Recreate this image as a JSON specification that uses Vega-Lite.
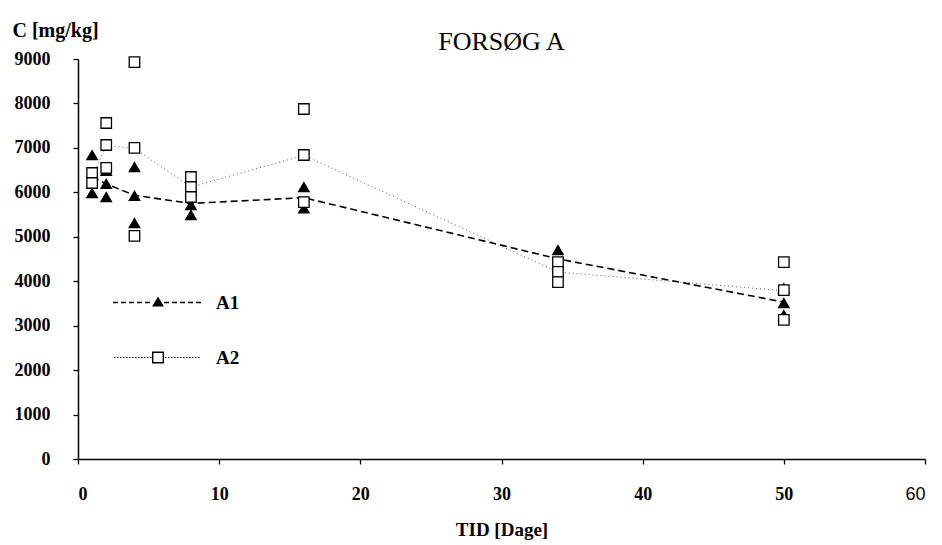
{
  "$schema": "https://vega.github.io/schema/vega-lite/v6.json",
  "width": 847,
  "height": 400,
  "autosize": "none",
  "padding": {"left": 78, "top": 59, "right": 17, "bottom": 86},
  "background": "white",
  "config": {
    "view": {"stroke": null},
    "axis": {
      "domainColor": "black", "domainWidth": 1.5, "tickColor": "black", "tickWidth": 1.3, "tickSize": 5,
      "grid": false, "labelColor": "black", "labelFont": "Liberation Serif", "labelFontWeight": "bold",
      "labelFontSize": 18, "titleFont": "Liberation Serif", "titleFontWeight": "bold", "titleFontSize": 19, "titleColor": "black"
    }
  },
  "title": {"text": "FORSØG A", "font": "Liberation Serif", "fontSize": 26, "fontWeight": "normal", "color": "black", "anchor": "middle", "baseline": "middle", "offset": -48},
  "data": {"values": [
    {"series": "A1", "t": 1, "c": 6840}, {"series": "A1", "t": 1, "c": 5985}, {"series": "A1", "t": 1, "c": 6210},
    {"series": "A1", "t": 2, "c": 6190}, {"series": "A1", "t": 2, "c": 5895}, {"series": "A1", "t": 2, "c": 6485},
    {"series": "A1", "t": 4, "c": 6570}, {"series": "A1", "t": 4, "c": 5920}, {"series": "A1", "t": 4, "c": 5310},
    {"series": "A1", "t": 8, "c": 5715}, {"series": "A1", "t": 8, "c": 5490}, {"series": "A1", "t": 8, "c": 6045},
    {"series": "A1", "t": 16, "c": 6120}, {"series": "A1", "t": 16, "c": 5640},
    {"series": "A1", "t": 34, "c": 4700}, {"series": "A1", "t": 34, "c": 4430}, {"series": "A1", "t": 34, "c": 4380},
    {"series": "A1", "t": 50, "c": 3510}, {"series": "A1", "t": 50, "c": 3240}, {"series": "A1", "t": 50, "c": 3840},
    {"series": "A2", "t": 1, "c": 6435}, {"series": "A2", "t": 1, "c": 6210},
    {"series": "A2", "t": 2, "c": 7560}, {"series": "A2", "t": 2, "c": 7065}, {"series": "A2", "t": 2, "c": 6550},
    {"series": "A2", "t": 4, "c": 8930}, {"series": "A2", "t": 4, "c": 7000}, {"series": "A2", "t": 4, "c": 5020},
    {"series": "A2", "t": 8, "c": 6345}, {"series": "A2", "t": 8, "c": 6120}, {"series": "A2", "t": 8, "c": 5895},
    {"series": "A2", "t": 16, "c": 7875}, {"series": "A2", "t": 16, "c": 6840}, {"series": "A2", "t": 16, "c": 5780},
    {"series": "A2", "t": 34, "c": 4430}, {"series": "A2", "t": 34, "c": 4210}, {"series": "A2", "t": 34, "c": 3980},
    {"series": "A2", "t": 50, "c": 4430}, {"series": "A2", "t": 50, "c": 3800}, {"series": "A2", "t": 50, "c": 3130}
  ]},
  "encoding": {
    "x": {"field": "t", "type": "quantitative", "scale": {"domain": [0, 60], "nice": false},
      "axis": {"values": [0, 10, 20, 30, 40, 50, 60], "title": "TID [Dage]", "labelPadding": 21, "titlePadding": 17,
        "labelFont": {"condition": {"test": "datum.value == 60", "value": "Liberation Sans"}, "value": "Liberation Serif"},
        "labelFontWeight": {"condition": {"test": "datum.value == 60", "value": "normal"}, "value": "bold"}}},
    "y": {"field": "c", "type": "quantitative", "scale": {"domain": [0, 9000], "nice": false},
      "axis": {"values": [0, 1000, 2000, 3000, 4000, 5000, 6000, 7000, 8000, 9000], "format": "d", "title": "C [mg/kg]", "labelPadding": 23,
        "titleAngle": 0, "titleAlign": "left", "titleBaseline": "middle", "titleX": -66, "titleY": -29, "titleFontSize": 20}}
  },
  "resolve": {"scale": {"shape": "independent", "fill": "independent"}, "legend": {"shape": "independent"}},
  "layer": [
    {
      "transform": [{"filter": "datum.series === 'A2'"}],
      "mark": {"type": "line", "color": "#555555", "strokeWidth": 1, "strokeDash": [1, 3]},
      "encoding": {"y": {"aggregate": "mean", "field": "c", "type": "quantitative"}}
    },
    {
      "transform": [{"filter": "datum.series === 'A1'"}],
      "mark": {"type": "line", "color": "black", "strokeWidth": 1.6, "strokeDash": [7, 4]},
      "encoding": {"y": {"aggregate": "mean", "field": "c", "type": "quantitative"}}
    },
    {
      "mark": {"type": "point", "filled": true, "color": "black", "opacity": 0, "size": 4},
      "encoding": {
        "shape": {"field": "series", "type": "nominal",
          "scale": {"domain": ["A1", "A2"], "range": [
            "M-45,-0.8h5v1.6h-5ZM-37,-0.8h5v1.6h-5ZM-29,-0.8h5v1.6h-5ZM-21,-0.8h5v1.6h-5ZM-13,-0.8h5v1.6h-5ZM6,-0.8h5v1.6h-5ZM14,-0.8h5v1.6h-5ZM22,-0.8h5v1.6h-5ZM30,-0.8h5v1.6h-5ZM38,-0.8h5v1.6h-5ZM-6,4L0,-6L6,4Z",
            "M-44,-0.5h1.5v1h-1.5ZM-41,-0.5h1.5v1h-1.5ZM-38,-0.5h1.5v1h-1.5ZM-35,-0.5h1.5v1h-1.5ZM-32,-0.5h1.5v1h-1.5ZM-29,-0.5h1.5v1h-1.5ZM-26,-0.5h1.5v1h-1.5ZM-23,-0.5h1.5v1h-1.5ZM-20,-0.5h1.5v1h-1.5ZM-17,-0.5h1.5v1h-1.5ZM-14,-0.5h1.5v1h-1.5ZM-11,-0.5h1.5v1h-1.5ZM-8,-0.5h1.5v1h-1.5ZM7,-0.5h1.5v1h-1.5ZM10,-0.5h1.5v1h-1.5ZM13,-0.5h1.5v1h-1.5ZM16,-0.5h1.5v1h-1.5ZM19,-0.5h1.5v1h-1.5ZM22,-0.5h1.5v1h-1.5ZM25,-0.5h1.5v1h-1.5ZM28,-0.5h1.5v1h-1.5ZM31,-0.5h1.5v1h-1.5ZM34,-0.5h1.5v1h-1.5ZM37,-0.5h1.5v1h-1.5ZM40,-0.5h1.5v1h-1.5ZM-6,-6H6V6H-6ZM-4.6,-4.6V4.6H4.6V-4.6Z"
          ]},
          "legend": {"orient": "none", "legendX": 70.5, "legendY": 234, "title": null, "padding": 0,
            "labelFont": "Liberation Serif", "labelFontWeight": "bold", "labelFontSize": 19, "labelColor": "black",
            "labelOffset": 48.5, "rowPadding": 35, "symbolSize": 4,
            "symbolFillColor": "black", "symbolStrokeColor": "transparent", "symbolStrokeWidth": 0, "symbolOpacity": 1,
            "encode": {
              "symbols": {"update": {"fill": {"value": "black"}, "stroke": {"value": "transparent"}, "strokeWidth": {"value": 0}, "opacity": {"value": 1}, "fillOpacity": {"value": 1}}},
              "labels": {"update": {"dy": {"value": 5}}}
            }}}
      }
    },
    {
      "mark": {"type": "point", "stroke": "black", "strokeWidth": 1.3, "size": 110, "opacity": 1, "fillOpacity": 1, "strokeOpacity": 1},
      "encoding": {
        "shape": {"field": "series", "type": "nominal", "scale": {"domain": ["A1", "A2"], "range": ["triangle-up", "square"]}, "legend": null},
        "fill": {"field": "series", "type": "nominal", "scale": {"domain": ["A1", "A2"], "range": ["black", "white"]}, "legend": null}
      }
    }
  ]
}
